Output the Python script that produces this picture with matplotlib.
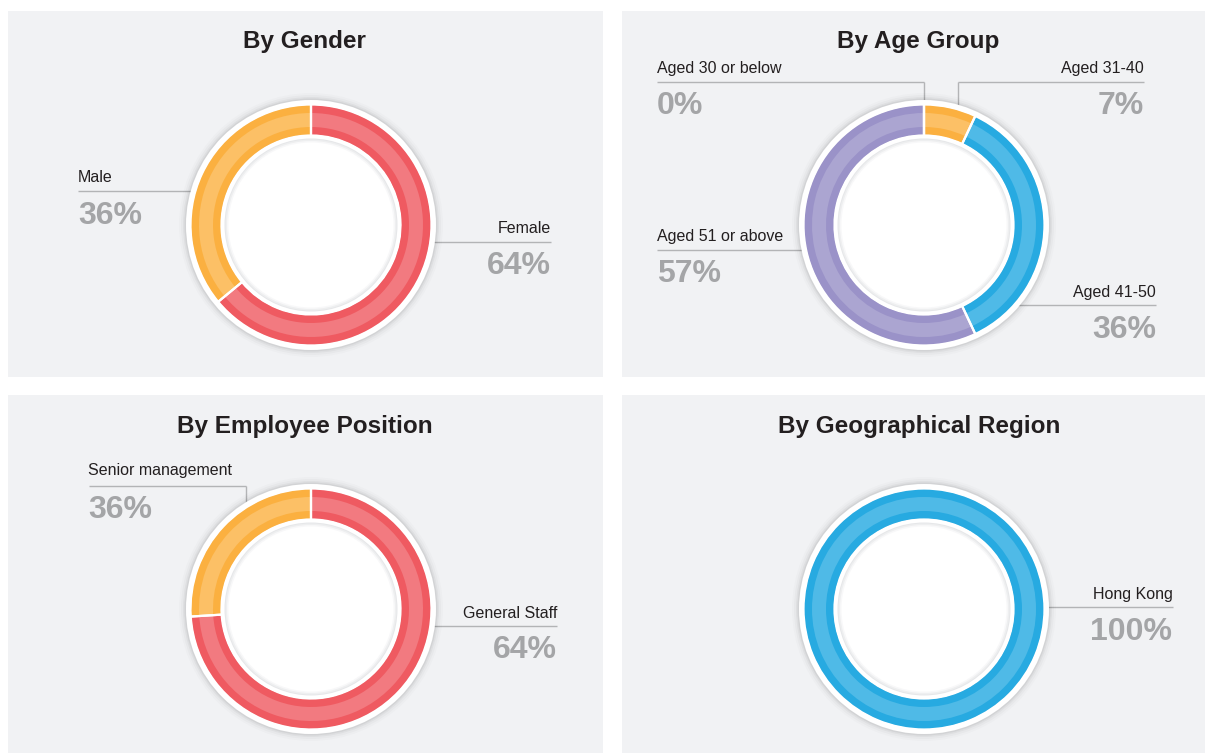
import matplotlib
matplotlib.use('Agg')
import matplotlib.pyplot as plt
from matplotlib.patches import Rectangle, Circle

plt.rcParams['font.family'] = ['Liberation Sans', 'DejaVu Sans']

# ---------------- data ----------------
titles = ['By Gender', 'By Age Group', 'By Employee Position', 'By Geographical Region']

gender_labels = ['Female', 'Male']
gender_values = [64, 36]

age_labels = ['Aged 30 or below', 'Aged 31-40', 'Aged 41-50', 'Aged 51 or above']
age_values = [0, 7, 36, 57]

position_labels = ['General Staff', 'Senior management']
position_values = [64, 36]
# arc shares as drawn in the reference ring (differs from the printed labels)
position_arc_values = [74, 26]

region_labels = ['Hong Kong']
region_values = [100]

# ---------------- styles ----------------
RED = ('#EF5A61', '#F27A80')
ORANGE = ('#FBB040', '#FCC066')
BLUE = ('#27AAE1', '#4FBAE7')
PURPLE = ('#9A92C8', '#ABA5D1')
PANEL = '#F1F2F4'
LINE = '#B3B4B6'
PCT = '#A4A5A7'
TXT = '#231F20'

W, H = 1205, 754
fig = plt.figure(figsize=(W / 100, H / 100), dpi=100)
ax = fig.add_axes([0, 0, 1, 1])

# panels
panels = [(8, 11, 595, 366), (622, 11, 583, 366), (8, 395, 595, 358), (622, 395, 583, 358)]
for (x, y, w, h) in panels:
    ax.add_patch(Rectangle((x, y), w, h, facecolor=PANEL, edgecolor='none', zorder=0))

title_pos = [(304.5, 48), (918.5, 48), (304.5, 433), (919, 433)]
for t, (x, y) in zip(titles, title_pos):
    ax.text(x, y, t, ha='center', va='baseline', fontsize=17.5, fontweight='bold', color=TXT, zorder=10)


def donut(cx, cy, values, colors):
    dark = [c[0] for c in colors]
    light = [c[1] for c in colors]
    for k, a in [(7, 0.015), (5, 0.025), (3, 0.035), (1.5, 0.05)]:
        ax.add_patch(Circle((cx, cy), 125 + k, facecolor='black', alpha=a, lw=0, zorder=2))
    ax.add_patch(Circle((cx, cy), 125, facecolor='white', lw=0, zorder=3))
    ax.pie(values, colors=dark, radius=120, center=(cx, cy), startangle=270, counterclock=True,
           wedgeprops=dict(width=30, linewidth=0, zorder=4), frame=True)
    ax.pie(values, colors=light, radius=112, center=(cx, cy), startangle=270, counterclock=True,
           wedgeprops=dict(width=14, linewidth=0, zorder=5), frame=True)
    ax.pie(values, radius=120.5, center=(cx, cy), startangle=270, counterclock=True,
           wedgeprops=dict(width=31, fill=False, edgecolor='white', linewidth=1.6, zorder=6), frame=True)
    ax.add_patch(Circle((cx, cy), 90, facecolor='white', lw=0, zorder=7))
    ax.add_patch(Circle((cx, cy), 86.5, facecolor='#E6E7E9', lw=0, zorder=7))
    ax.add_patch(Circle((cx, cy), 85.5, facecolor='#EEEFF0', lw=0, zorder=7))
    ax.add_patch(Circle((cx, cy), 84, facecolor='#F8F8F9', lw=0, zorder=7))
    ax.add_patch(Circle((cx, cy), 82.5, facecolor='white', lw=0, zorder=7))


def label(x, line_y, x0, x1, name, pct, ha, vx=None, vy1=None, dy_lab=-8.5, dy_pct=32.5):
    ax.plot([x0, x1], [line_y, line_y], color=LINE, lw=1, zorder=1.5, solid_capstyle='butt')
    if vx is not None:
        ax.plot([vx, vx], [line_y, vy1], color=LINE, lw=1, zorder=1.5, solid_capstyle='butt')
    ax.text(x, line_y + dy_lab, name, ha=ha, va='baseline', fontsize=11.5, color=TXT, zorder=10)
    ax.text(x, line_y + dy_pct, pct, ha=ha, va='baseline', fontsize=23, fontweight='bold',
            color=PCT, zorder=10)


# By Gender
donut(311, 225, gender_values, [RED, ORANGE])
label(551, 241.5, 420, 551, gender_labels[0], f'{gender_values[0]}%', 'right')
label(78, 191, 78, 200, gender_labels[1], f'{gender_values[1]}%', 'left')

# By Age Group
donut(924, 225, age_values, [PURPLE, ORANGE, BLUE, PURPLE])
label(657, 81.5, 657, 923.5, age_labels[0], f'{age_values[0]}%', 'left', vx=923.5, vy1=110)
label(1144, 81.5, 958, 1144, age_labels[1], f'{age_values[1]}%', 'right', vx=958, vy1=112)
label(1156, 305, 1000, 1156, age_labels[2], f'{age_values[2]}%', 'right')
label(657, 250, 657, 820, age_labels[3], f'{age_values[3]}%', 'left')

# By Employee Position
donut(311, 609, position_arc_values, [RED, ORANGE])
label(557, 626, 420, 557, position_labels[0], f'{position_values[0]}%', 'right')
label(88.5, 486, 88.5, 246, position_labels[1], f'{position_values[1]}%', 'left',
      vx=246, vy1=512, dy_lab=-10.5)

# By Geographical Region
donut(924, 609, region_values, [BLUE])
label(1172.5, 607, 1030, 1172.5, region_labels[0], f'{region_values[0]}%', 'right')

ax.set_xlim(0, W)
ax.set_ylim(H, 0)
ax.set_aspect('equal')
ax.axis('off')

fig.savefig('out.png', dpi=100, facecolor='white')
